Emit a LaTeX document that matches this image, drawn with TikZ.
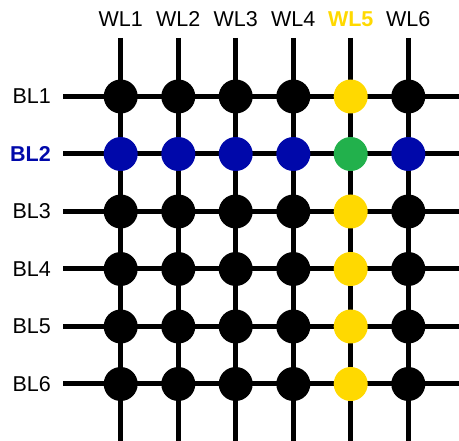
\documentclass[tikz,border=0pt]{standalone}
\usepackage{fontspec}
\setmainfont{Liberation Sans}
\definecolor{cellblack}{RGB}{0,0,0}
\definecolor{selblue}{RGB}{0,8,170}
\definecolor{selyellow}{RGB}{255,217,0}
\definecolor{selgreen}{RGB}{34,177,76}
\begin{document}
\begin{tikzpicture}[x=1pt,y=-1pt,
  wire/.style={line width=5pt,black},
  cell/.style={circle,inner sep=0pt,minimum size=34pt,fill=#1},
  lbl/.style={font=\fontsize{21.5}{24}\selectfont,inner sep=0pt}]
\useasboundingbox (0,0) rectangle (459,441);
% coordinates
\foreach \i/\x in {1/120.7,2/178.3,3/235.7,4/293.3,5/350.7,6/408.3}{
  \coordinate (wt\i) at (\x,38);
  \coordinate (wb\i) at (\x,441);
}
\foreach \j/\y in {1/96.5,2/154,3/211.5,4/269,5/326.5,6/384}{
  \coordinate (bl\j) at (63,\y);
  \coordinate (br\j) at (459,\y);
}
% wires
\foreach \i in {1,...,6}{\draw[wire] (wt\i) -- (wb\i);}
\foreach \j in {1,...,6}{\draw[wire] (bl\j) -- (br\j);}
% cells
\foreach \i in {1,...,6}{
  \foreach \j in {1,...,6}{
    \pgfmathsetmacro{\cc}{\j==2 ? (\i==5 ? 2 : 1) : (\i==5 ? 3 : 0)}
    \ifcase\numexpr\cc\relax
      \def\col{cellblack}\or\def\col{selblue}\or\def\col{selgreen}\or\def\col{selyellow}\fi
    \node[cell=\col] (c\i\j) at (wt\i |- bl\j) {};
  }
}
% labels
\foreach \i in {1,2,3,4,6}{
  \node[lbl,anchor=base] (wl\i) at ([yshift=11.3pt]wt\i) {WL\i};
}
\node[lbl,anchor=base,text=selyellow,font=\fontsize{21.5}{24}\selectfont\bfseries] (wl5) at ([yshift=11.3pt]wt5) {WL5};
\foreach \j in {1,3,4,5,6}{
  \node[lbl,anchor=east] (bll\j) at ([xshift=-12pt]bl\j) {BL\j};
}
\node[lbl,anchor=east,text=selblue,font=\fontsize{21.5}{24}\selectfont\bfseries] (bll2) at ([xshift=-12pt]bl2) {BL2};
\end{tikzpicture}
\end{document}
